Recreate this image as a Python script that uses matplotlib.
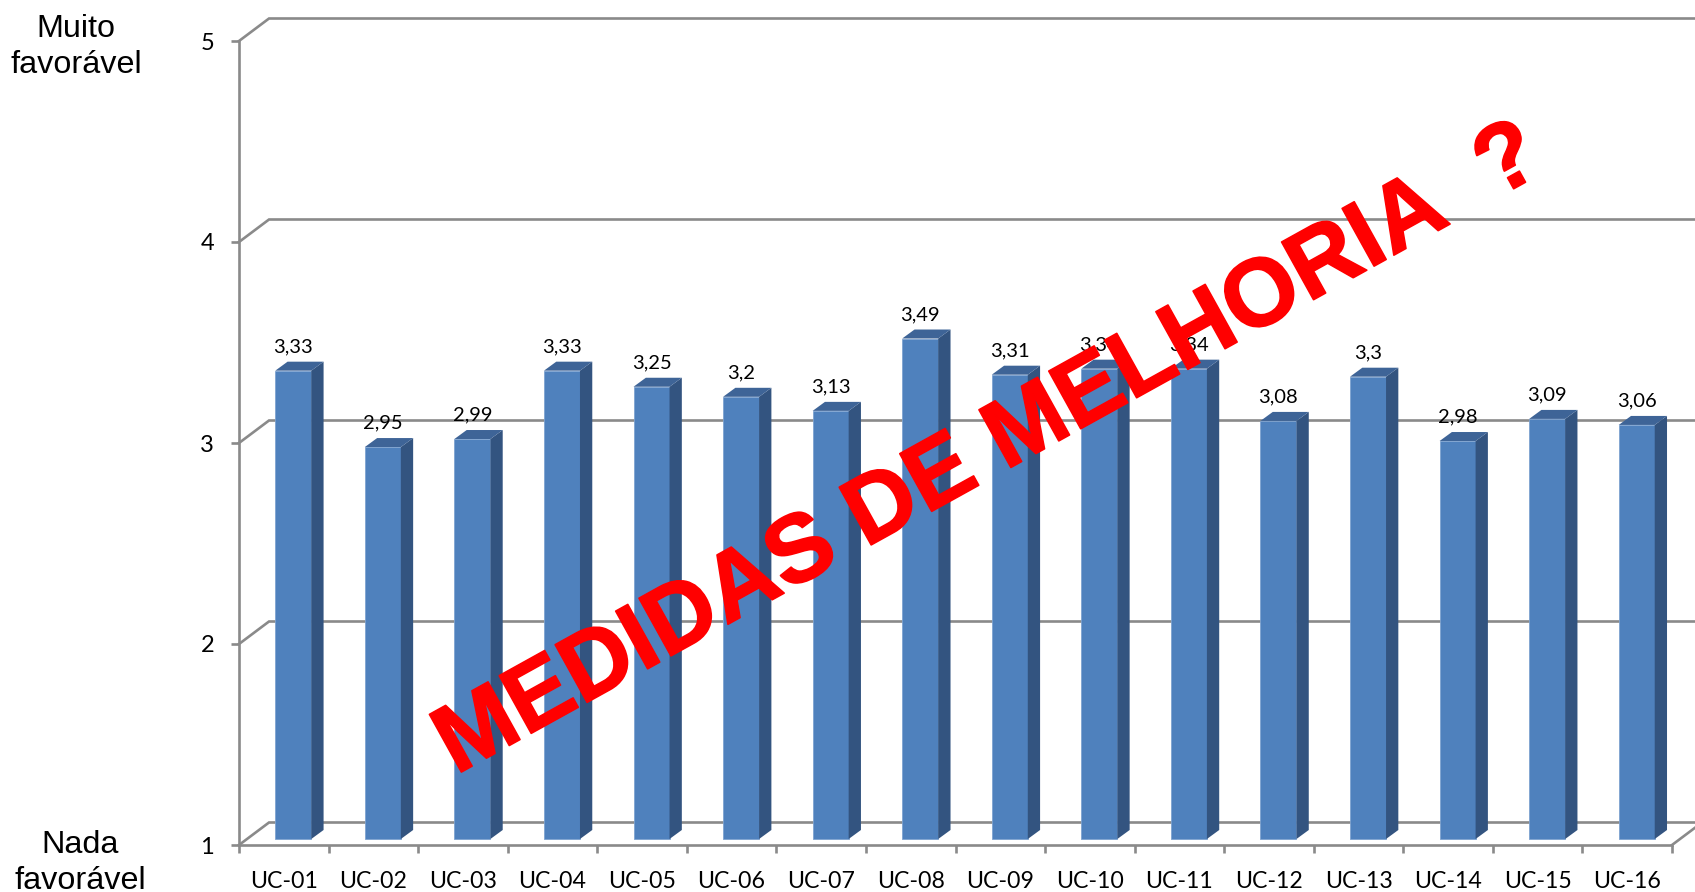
import matplotlib
matplotlib.use("Agg")
import matplotlib.pyplot as plt
import matplotlib.patheffects as pe

categories = ["UC-01","UC-02","UC-03","UC-04","UC-05","UC-06","UC-07","UC-08",
              "UC-09","UC-10","UC-11","UC-12","UC-13","UC-14","UC-15","UC-16"]
values = [3.33,2.95,2.99,3.33,3.25,3.2,3.13,3.49,3.31,3.34,3.34,3.08,3.3,2.98,3.09,3.06]
y_ticks = [1,2,3,4,5]

W, H = 1695, 892
fig = plt.figure(figsize=(W/100, H/100), dpi=100, facecolor="white")
L, R, T, B = 239, 1695, 41, 845
ax = fig.add_axes([L/W, 1-B/H, (R-L)/W, (B-T)/H])
PX = (1672-239)/16     # pixels per category
PY = (845-41)/4        # pixels per value unit
ax.set_xlim(0, (R-L)/PX)
ax.set_ylim(1, 5)
ax.patch.set_alpha(0)

GRAY = "#8a8a8a"
LW = 1.9
FRONT, SIDE, TOP = "#4F81BD", "#335480", "#3E6497"
FONT = "Lato"

# 3D offsets
bx, by = 30/PX, 22.5/PY
xmax = (R-L)/PX
for v in y_ticks:
    ax.plot([0, bx, xmax], [v, v+by, v+by], color=GRAY, lw=LW, clip_on=False, zorder=1,
            solid_joinstyle="miter")
ax.plot([16, 16+bx], [1, 1+by], color=GRAY, lw=LW, clip_on=True, zorder=1)

for s in ["top", "right"]:
    ax.spines[s].set_visible(False)
for s in ["left", "bottom"]:
    ax.spines[s].set_color(GRAY)
    ax.spines[s].set_linewidth(LW)
    ax.spines[s].set_zorder(1.5)
ax.spines["bottom"].set_bounds(0, 16)

ax.set_yticks(y_ticks)
ax.set_yticklabels([str(v) for v in y_ticks], fontsize=17, fontname=FONT, color="black")
ax.set_xticks(range(17))
ax.set_xticklabels([""]*17)
ax.tick_params(axis="both", length=6, width=LW, color=GRAY, direction="out")
ax.tick_params(axis="y", pad=12)

# bars
off_x = 9.5/PX
vshift = 6/PY
base_y = 1 + vshift
bw = 36/PX
dx, dy = 12.3/PX, 9/PY
centers = [i + 0.5 + off_x for i in range(16)]
for c, v in zip(centers, values):
    l, r = c - bw/2, c + bw/2
    t = v + vshift
    ax.bar(c, t-base_y, bottom=base_y, width=bw, color=FRONT, edgecolor="#7ea3d0",
           linewidth=0.6, zorder=3, clip_on=False)
    ax.fill([r, r+dx, r+dx, r], [base_y, base_y+dy, t+dy, t], color=SIDE, lw=0, zorder=3, clip_on=False)
    ax.fill([l, l+dx, r+dx, r], [t, t+dy, t+dy, t], color=TOP, lw=0, zorder=3, clip_on=False)
    ax.annotate(f"{v:g}".replace(".", ","), (c, t), xytext=(0, 24*0.72), textcoords="offset points",
                ha="center", va="center", fontsize=14.5, fontname=FONT, color="black",
                zorder=4, annotation_clip=False)

for i, name in enumerate(categories):
    ax.annotate(name, (i+0.5, 1), xytext=(0, -37*0.72), textcoords="offset points",
                ha="center", va="center", fontsize=16.7, fontname=FONT, color="black",
                annotation_clip=False)

fig.text(76/W, 1-47/H, "Muito\nfavorável", ha="center", va="center", fontsize=23.3,
         family="Liberation Sans", color="black", linespacing=1.3)
fig.text(80/W, 1-863/H, "Nada\nfavorável", ha="center", va="center", fontsize=23.3,
         family="Liberation Sans", color="black", linespacing=1.3)

fig.text(989/W, 1-451/H, "MEDIDAS DE MELHORIA  ?", ha="center", va="center", rotation=29,
         rotation_mode="anchor", fontsize=69, fontweight="bold", family="Liberation Sans",
         color="#FF0000", zorder=10,
         path_effects=[pe.withStroke(linewidth=1.2, foreground="#FF0000")])

fig.savefig("out.png", dpi=100, facecolor="white")
